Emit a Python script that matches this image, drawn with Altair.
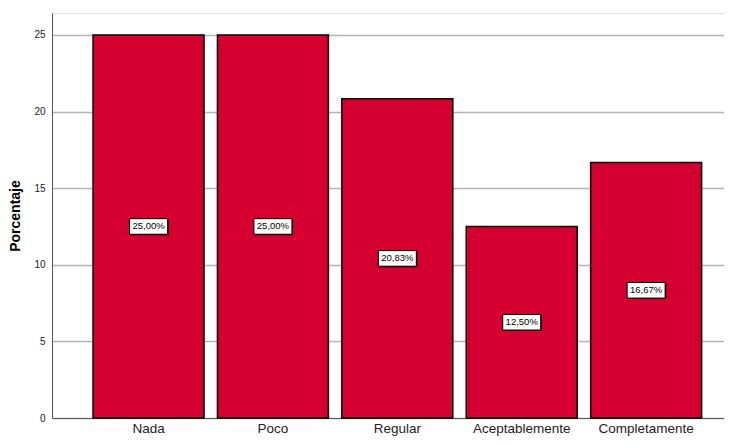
import altair as alt
import pandas as pd

categories = ["Nada", "Poco", "Regular", "Aceptablemente", "Completamente"]
values = [25.0, 25.0, 20.83, 12.5, 16.67]
labels = ["25,00%", "25,00%", "20,83%", "12,50%", "16,67%"]

df = pd.DataFrame({"cat": categories, "val": values, "lab": labels})
df["mid"] = df["val"] / 2

xscale = alt.Scale(domain=categories, paddingInner=0.108, paddingOuter=0.255, align=0.647)
yscale = alt.Scale(domain=[0, 26.43], nice=False)

x = alt.X("cat:N", scale=xscale, sort=categories,
          axis=alt.Axis(title=None, labelAngle=0, labelFontSize=13.5, labelColor="#222",
                        labelFont="Liberation Sans", ticks=False, domainColor="#555",
                        labelPadding=3, grid=False))

bars = alt.Chart(df).mark_bar(color="#d5002f", stroke="black", strokeWidth=1.5).encode(
    x=x,
    y=alt.Y("val:Q", scale=yscale,
            axis=alt.Axis(title="Porcentaje", values=[0, 5, 10, 15, 20, 25],
                          titleFontSize=14, titleFont="Liberation Sans", titleFontWeight="bold",
                          titleColor="black", titlePadding=11,
                          labelFontSize=10, labelFont="Liberation Sans", labelColor="#222",
                          labelPadding=7, ticks=False, domainColor="#555",
                          grid=True, gridColor="#b4b4b4", gridWidth=1.5)),
)

shadow = alt.Chart(df).mark_point(
    shape="M-0.94,-0.36L1.06,-0.36L1.06,0.46L-0.94,0.46Z",
    filled=True, fill="black", opacity=1, size=1444,
).encode(x=alt.X("cat:N", scale=xscale, sort=categories), y=alt.Y("mid:Q", scale=yscale))

box = alt.Chart(df).mark_point(
    shape="M-1,-0.41L1,-0.41L1,0.41L-1,0.41Z",
    filled=True, fill="white", stroke="black", strokeWidth=1, opacity=1, size=1444,
).encode(x=alt.X("cat:N", scale=xscale, sort=categories), y=alt.Y("mid:Q", scale=yscale))

text = alt.Chart(df).mark_text(font="Liberation Sans", fontSize=9.5, color="black",
                               baseline="middle", align="center").encode(
    x=alt.X("cat:N", scale=xscale, sort=categories),
    y=alt.Y("mid:Q", scale=yscale),
    text="lab:N",
)

chart = alt.layer(bars, shadow, box, text).properties(
    width=672, height=405,
    autosize=alt.AutoSizeParams(type="none"),
    padding={"left": 44, "top": 5, "right": 0, "bottom": 19},
).configure_view(stroke=None).configure(background="white")

chart.save("out.html", embed_options={"renderer": "svg", "actions": False})
